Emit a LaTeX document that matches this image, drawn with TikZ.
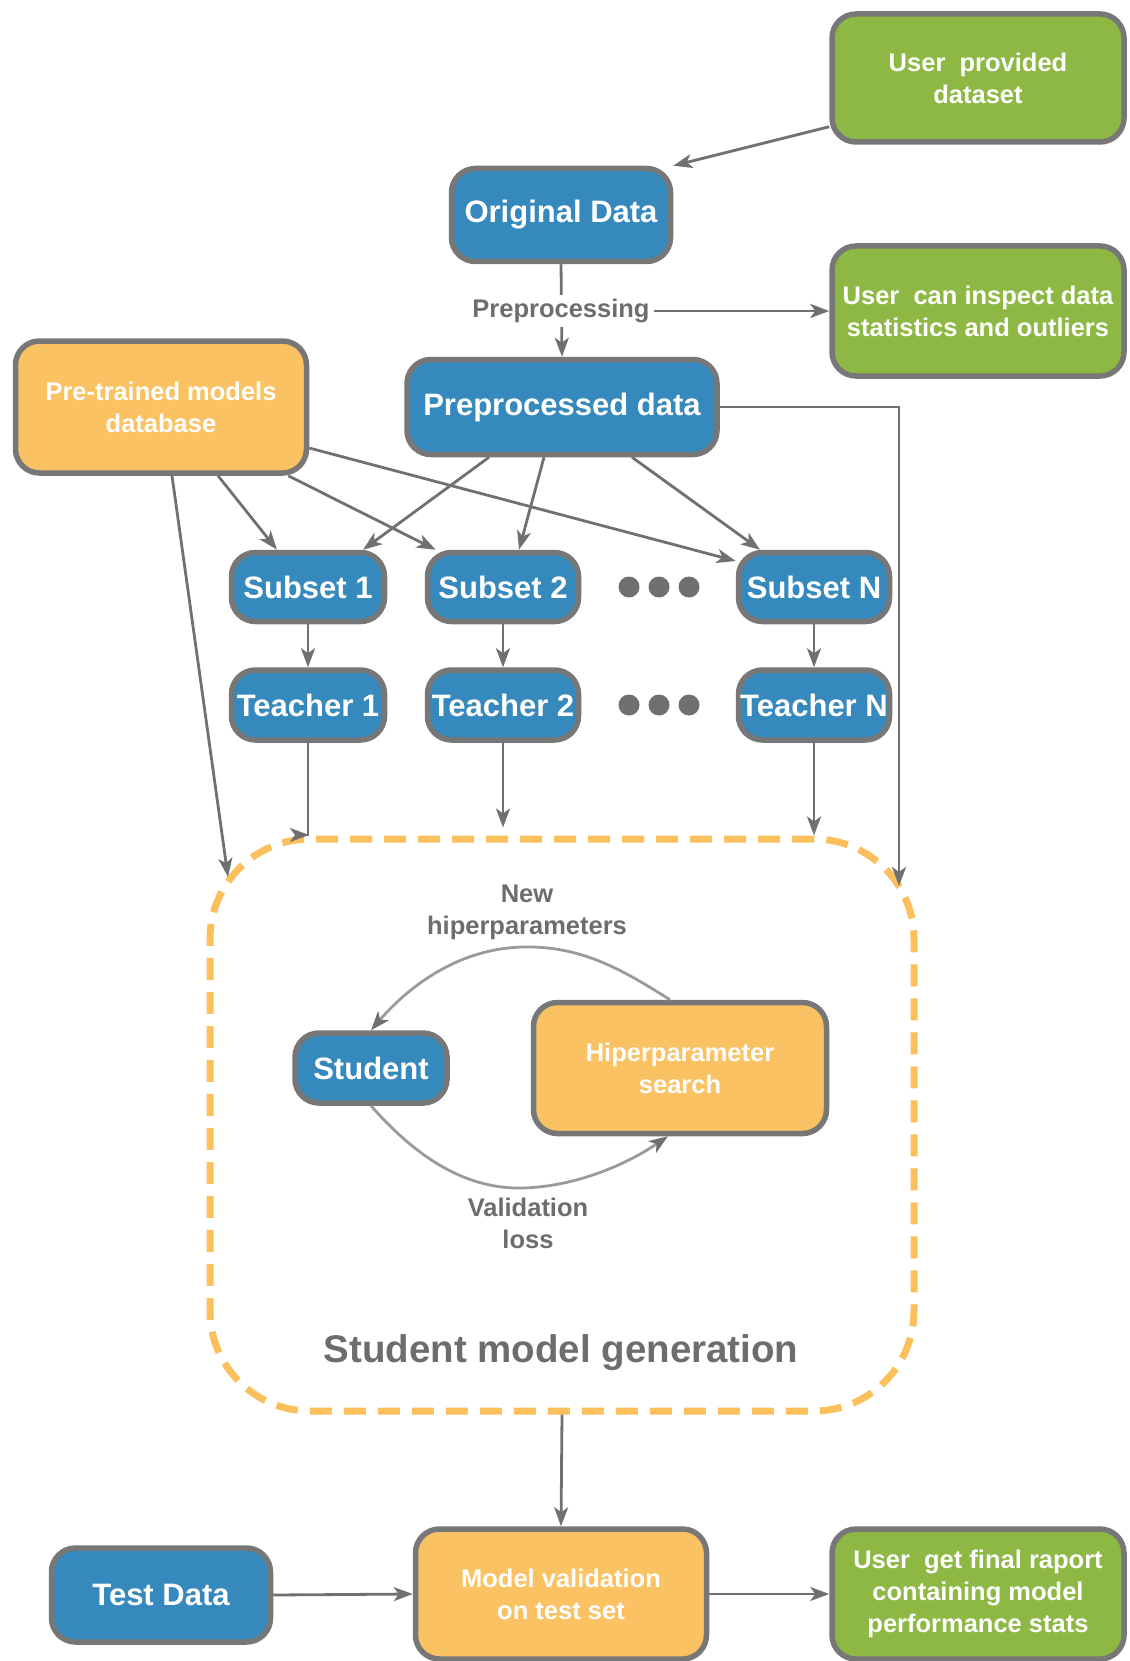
\documentclass[tikz,border=0pt]{standalone}
\usepackage{fontspec}
\setmainfont{Liberation Sans}
\usetikzlibrary{arrows.meta,calc}

\definecolor{boxblue}{HTML}{3589BD}
\definecolor{boxgreen}{HTML}{8DB843}
\definecolor{boxorange}{HTML}{FAC262}
\definecolor{dashorange}{HTML}{FBBF5C}
\definecolor{edgegray}{HTML}{777777}
\definecolor{linegray}{HTML}{707070}
\definecolor{softgray}{HTML}{9A9A9A}
\definecolor{labelgray}{HTML}{6D6D6D}

\tikzset{
  box/.style={draw=edgegray, line width=5.5pt, rounded corners=24pt, align=center,
    text=white, inner sep=0pt},
  bluebox/.style={box, fill=boxblue, font=\bfseries\fontsize{31pt}{35pt}\selectfont},
  greenbox/.style={box, fill=boxgreen, font=\bfseries\fontsize{25.5pt}{32pt}\selectfont},
  orangebox/.style={box, fill=boxorange, font=\bfseries\fontsize{25.5pt}{32pt}\selectfont},
  regionbox/.style={draw=dashorange, line width=7pt, dash pattern=on 22pt off 12pt,
    rounded corners=100pt, inner sep=0pt},
  graylabel/.style={text=labelgray, align=center, font=\bfseries\fontsize{25.5pt}{32pt}\selectfont},
  tip/.style={-{Stealth[length=19pt,width=14pt,inset=5pt]}},
  arr/.style={draw=linegray, line width=2.8pt, tip},
  softarr/.style={draw=softgray, line width=2.8pt,
    -{Stealth[length=19pt,width=14pt,inset=5pt,color=linegray]}},
}

\begin{document}
\begin{tikzpicture}[x=1pt,y=-1pt]
\useasboundingbox (0,0) rectangle (1129,1661);

% data sources and user-facing outputs
\node[greenbox, minimum width=292pt, minimum height=128pt] (upd) at (978,78) {User\ \ provided\\dataset};
\node[bluebox, minimum width=219pt, minimum height=93pt] (orig) at (561,215) {Original Data};
\node[greenbox, minimum width=292pt, minimum height=130pt] (uci) at (978,311) {User\ \ can inspect data\\statistics and outliers};
\node[orangebox, minimum width=291pt, minimum height=132pt] (ptm) at (161,407) {Pre-trained models\\database};
\node[bluebox, minimum width=310pt, minimum height=95pt] (ppd) at (562,407) {Preprocessed data};

% subsets and teachers
\node[bluebox, minimum width=153pt, minimum height=69pt] (s1) at (308,587) {Subset 1};
\node[bluebox, minimum width=151pt, minimum height=69pt] (s2) at (503,587) {Subset 2};
\node[bluebox, minimum width=151pt, minimum height=69pt] (sN) at (814,587) {Subset N};
\node[bluebox, minimum width=153pt, minimum height=70pt] (t1) at (308,705) {Teacher 1};
\node[bluebox, minimum width=151pt, minimum height=70pt] (t2) at (503,705) {Teacher 2};
\node[bluebox, minimum width=151pt, minimum height=70pt] (tN) at (814,705) {Teacher N};

\foreach \y in {587,705} {
  \foreach \x in {629,659,689} {
    \fill[linegray] (\x,\y) circle[radius=10.5pt];
  }
}

% student generation region
\node[regionbox, minimum width=704pt, minimum height=572pt] (gen) at (562,1125) {};
\node[graylabel, font=\bfseries\fontsize{38.5pt}{44pt}\selectfont] (genlabel) at (561,1353) {Student model generation};
\node[bluebox, minimum width=152pt, minimum height=70pt] (student) at (371,1068) {Student};
\node[orangebox, minimum width=293pt, minimum height=131pt] (hps) at (680,1068) {Hiperparameter\\search};
\node[graylabel] (newhp) at (527,912) {New\\hiperparameters};
\node[graylabel] (valloss) at (528,1223) {Validation\\loss};

% evaluation row
\node[bluebox, minimum width=219pt, minimum height=94pt] (td) at (161,1595) {Test Data};
\node[orangebox, minimum width=291pt, minimum height=130pt] (mv) at (561,1594) {Model validation\\on test set};
\node[greenbox, minimum width=292pt, minimum height=130pt] (ufr) at (978,1594) {User\ \ get final raport\\containing model\\performance stats};

% connector end points on the dashed region
\coordinate (ptmin) at (228,877);
\coordinate (ppdin) at (899,886);
\coordinate (t1in) at (309,835);

% flow of the data
\draw[arr] ($(upd.south west)+(0,-18)$) -- (orig.north east);
\draw[arr] (orig.south) -- (ppd.north);
\node[graylabel, fill=white, inner sep=4pt] (prep) at (561,311) {Preprocessing};
\draw[arr] (prep.east) -- (uci.west);
\draw[arr] (ppd.east) -| (ppdin);

\draw[arr] ($(ppd.south)+(-73,0)$) -- ($(s1.north)+(55,0)$);
\draw[arr] ($(ppd.south)+(-18,0)$) -- ($(s2.north)+(16,0)$);
\draw[arr] ($(ppd.south)+(70,0)$) -- ($(sN.north)+(-54,0)$);

\draw[arr] ($(ptm.south)+(57,0)$) -- ($(s1.north)+(-31,0)$);
\draw[arr] ($(ptm.south east)+(-21,0)$) -- ($(s2.north west)+(11,0)$);
\draw[arr] ($(ptm.east)+(0,41)$) -- ($(sN.west)+(0,-26)$);
\draw[arr] ($(ptm.south)+(11,0)$) -- (ptmin);

\draw[arr] (s1) -- (t1);
\draw[arr] (s2) -- (t2);
\draw[arr] (sN) -- (tN);

\draw[arr] (t1.south) |- (t1in);
\draw[arr, shorten >=8pt] (t2.south) -- (t2.south |- gen.north);
\draw[arr] (tN.south) -- (tN.south |- gen.north);

% tuning loop
\draw[softarr] ($(hps.north)+(-10,0)$) .. controls (620,968) and (580,946) .. (524,947)
  .. controls (460,948) and (410,985) .. (student.north);
\draw[softarr] (student.south) .. controls (410,1150) and (460,1190) .. (524,1188)
  .. controls (580,1186) and (630,1162) .. ($(hps.south)+(-12,0)$);

% final evaluation
\draw[arr] (gen.south) -- (mv.north);
\draw[arr] (td.east) -- (mv.west);
\draw[arr] (mv.east) -- (ufr.west);
\end{tikzpicture}
\end{document}
